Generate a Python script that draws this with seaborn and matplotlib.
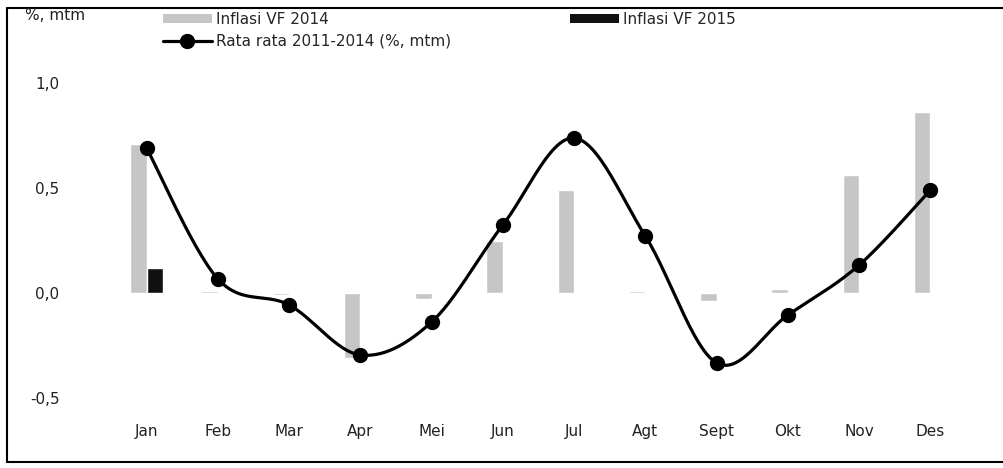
import numpy as np
import pandas as pd
import matplotlib
matplotlib.use("Agg")
import matplotlib.pyplot as plt
from matplotlib.patches import Patch
from matplotlib.lines import Line2D
import seaborn as sns

months = ["Jan", "Feb", "Mar", "Apr", "Mei", "Jun", "Jul", "Agt", "Sept", "Okt", "Nov", "Des"]
vf2014 = [0.71, 0.01, -0.01, -0.31, -0.03, 0.25, 0.49, 0.01, -0.04, 0.02, 0.56, 0.86]
vf2015 = [0.12, None, None, None, None, None, None, None, None, None, None, None]
avg_2011_2014 = [0.69, 0.067, -0.057, -0.295, -0.138, 0.324, 0.738, 0.271, -0.333, -0.105, 0.133, 0.49]
series_names = ["Inflasi VF 2014", "Inflasi VF 2015"]
avg_name = "Rata rata 2011-2014 (%, mtm)"
y_ticks = [-0.5, 0.0, 0.5, 1.0]
y_ticklabels = ["-0,5", "0,0", "0,5", "1,0"]

sns.set_theme(style="white")
plt.rcParams["font.family"] = ["DejaVu Sans"]

W, H = 1004, 468
fig = plt.figure(figsize=(W / 100, H / 100), dpi=100)
ax = fig.add_axes([111 / W, 1 - 398 / H, (966 - 111) / W, (398 - 83) / H])

df = pd.DataFrame({
    "month": months * 2,
    "series": [series_names[0]] * 12 + [series_names[1]] * 12,
    "value": [np.nan if v is None else v for v in vf2014 + vf2015],
})
col2014 = "#c6c6c6"
col2015 = "#111111"
sns.barplot(data=df, x="month", y="value", hue="series", order=months,
            hue_order=series_names, palette=[col2014, col2015], width=0.46,
            errorbar=None, ax=ax, legend=False, saturation=1)

# smoothed line (Excel-style bezier through the data points)
pts = np.column_stack([np.arange(len(avg_2011_2014)), avg_2011_2014]).astype(float)
P = np.vstack([pts[0], pts, pts[-1]])
xs, ys = [], []
t = np.linspace(0, 1, 30)
for i in range(1, len(P) - 2):
    p0, p1, p2, p3 = P[i - 1], P[i], P[i + 1], P[i + 2]
    c1 = p1 + (p2 - p0) / 6
    c2 = p2 - (p3 - p1) / 6
    seg = ((1 - t) ** 3)[:, None] * p1 + (3 * (1 - t) ** 2 * t)[:, None] * c1 \
        + (3 * (1 - t) * t ** 2)[:, None] * c2 + (t ** 3)[:, None] * p2
    xs.extend(seg[:, 0]); ys.extend(seg[:, 1])
ax.plot(xs, ys, color="black", lw=2.3, zorder=3)
ax.plot(pts[:, 0], pts[:, 1], "o", color="black", ms=10, zorder=4)

ax.set_xlim(-0.5, 11.5)
ax.set_ylim(-0.5, 1.0)
ax.set_yticks(y_ticks)
ax.set_yticklabels(y_ticklabels)
ax.set_xlabel("")
ax.set_ylabel("")
ax.tick_params(axis="y", length=0, pad=37, labelsize=11, labelcolor="#222222")
ax.tick_params(axis="x", length=0, pad=19, labelsize=11, labelcolor="#222222")
for s in ax.spines.values():
    s.set_visible(False)
ax.grid(False)

fig.text(25 / W, 1 - 16 / H, "%, mtm", va="center", ha="left", fontsize=11, color="#222222")

handles = [Patch(facecolor=col2014, edgecolor="none"),
           Line2D([0], [0], color="black", lw=2.3, marker="o", ms=10),
           Patch(facecolor=col2015, edgecolor="none")]
labels = [series_names[0], avg_name, series_names[1]]
fig.legend(handles, labels, loc="upper left", bbox_to_anchor=(163 / W, 1 - 12 / H),
           ncol=2, frameon=False, fontsize=11, handlelength=3.2, handleheight=0.6,
           columnspacing=7.8, labelspacing=0.45, borderpad=0, borderaxespad=0,
           handletextpad=0.25)

# figure frame
for (x0, y0, x1, y1) in [(7, 8, 7, 462), (7, 8, 1004, 8), (7, 462, 1004, 462)]:
    fig.add_artist(Line2D([x0 / W, x1 / W], [1 - y0 / H, 1 - y1 / H], color="black", lw=1.5,
                          transform=fig.transFigure))

fig.savefig("out.png", dpi=100)
